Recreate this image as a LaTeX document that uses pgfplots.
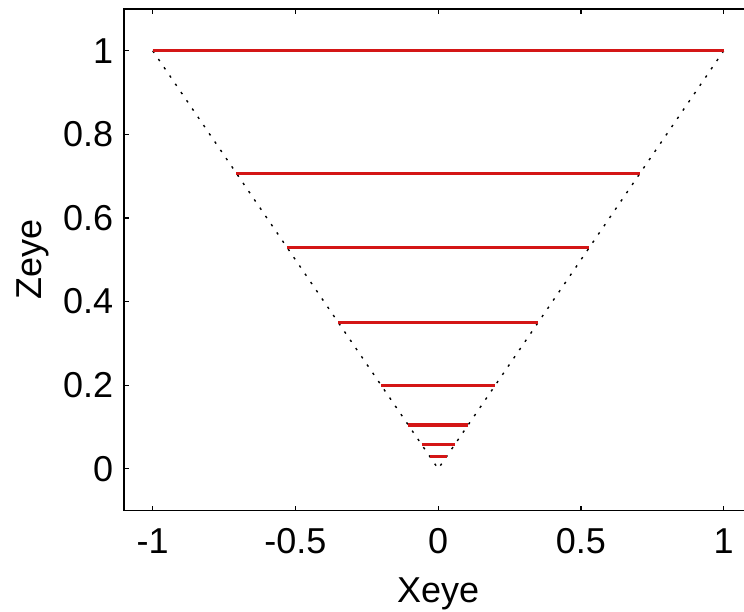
\documentclass[border=0pt]{standalone}
\usepackage{fontspec}
\setmainfont{Liberation Sans}
\usepackage{pgfplots}
\pgfplotsset{compat=1.18}
\definecolor{linered}{RGB}{212,22,22}

\begin{document}
\begin{tikzpicture}
\begin{axis}[
  at={(0,0)}, anchor=south west,
  scale only axis,
  width=314pt, height=250.8pt,
  xmin=-1.1, xmax=1.1,
  ymin=-0.1, ymax=1.1,
  xtick={-1,-0.5,0,0.5,1},
  ytick={0,0.2,0.4,0.6,0.8,1},
  xticklabels={-1,-0.5,0,0.5,1},
  yticklabels={0,0.2,0.4,0.6,0.8,1},
  tick align=inside,
  major tick length=2.5pt,
  tick style={black, line width=0.6pt},
  axis line style={line width=0.7pt},
  tick label style={font=\fontsize{18}{20}\selectfont},
  xticklabel style={yshift=-5.5pt},
  yticklabel style={xshift=-2pt},
  xlabel={Xeye}, ylabel={Zeye},
  label style={font=\fontsize{18}{20}\selectfont},
  xlabel style={yshift=-5pt},
  ylabel style={yshift=0pt},
  clip=false,
]
% cone edges (dotted)
\addplot[black, line width=0.7pt, dash pattern=on 1.2pt off 3.8pt] coordinates {(-1,1) (0,0) (1,1)};
% red slices at each depth
\addplot[linered, line width=1.6pt] coordinates {(-1,1) (1,1)};
\addplot[linered, line width=1.6pt] coordinates {(-0.707,0.707) (0.707,0.707)};
\addplot[linered, line width=1.6pt] coordinates {(-0.53,0.53) (0.53,0.53)};
\addplot[linered, line width=1.6pt] coordinates {(-0.35,0.35) (0.35,0.35)};
\addplot[linered, line width=1.6pt] coordinates {(-0.2,0.2) (0.2,0.2)};
\addplot[linered, line width=1.6pt] coordinates {(-0.105,0.105) (0.105,0.105)};
\addplot[linered, line width=1.6pt] coordinates {(-0.058,0.058) (0.058,0.058)};
\addplot[linered, line width=1.6pt] coordinates {(-0.03,0.03) (0.03,0.03)};
\end{axis}
% the reference is cropped just before the right spine
\pgfresetboundingbox
\path (-62.1pt,-50.25pt) rectangle (309.9pt,255.3pt);
\end{tikzpicture}
\end{document}
